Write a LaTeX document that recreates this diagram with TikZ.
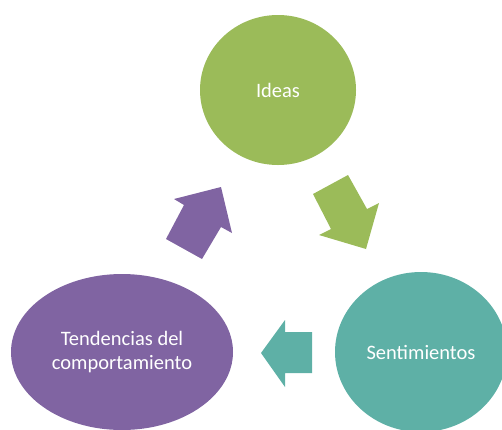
\documentclass[tikz,border=0pt]{standalone}
\usepackage{fontspec}
\setmainfont{Carlito}
\usepackage{xcolor}
\usetikzlibrary{shapes.geometric}

\definecolor{ideasgreen}{HTML}{9BBB59}
\definecolor{sentteal}{HTML}{5EB0A6}
\definecolor{tendpurple}{HTML}{8064A2}

\begin{document}
\begin{tikzpicture}[
    x=1pt, y=-1pt,
    blob/.style={ellipse, inner sep=0pt, text=white, align=center,
        font=\fontsize{20.5}{24.5}\selectfont},
    ideas/.style={blob, fill=ideasgreen, minimum width=156pt, minimum height=150pt},
    sent/.style={blob, fill=sentteal, minimum width=172pt, minimum height=160pt},
    tend/.style={blob, fill=tendpurple, minimum width=222pt, minimum height=156pt}
]
\useasboundingbox (0,0) rectangle (502,429);
\clip (0,0) rectangle (502,429);

% circulos
\node[ideas] (ideas) at (278,90) {Ideas};
\node[sent] (sent) at (421,352) {Sentimientos};
\node[tend] (tend) at (122,352) {Tendencias del\\comportamiento};

% flechas
\fill[ideasgreen] (313,194) -- (348,175) -- (367,209) -- (379,203)
    -- (366,249) -- (319,235) -- (331,229) -- cycle;
\fill[sentteal] (312,332) -- (285,332) -- (285,320) -- (261,353)
    -- (285,387) -- (285,373) -- (312,373) -- cycle;
\fill[tendpurple] (166,239) -- (202,259) -- (221,227) -- (232,233)
    -- (221,187) -- (174,199) -- (184,205) -- cycle;
\end{tikzpicture}
\end{document}
